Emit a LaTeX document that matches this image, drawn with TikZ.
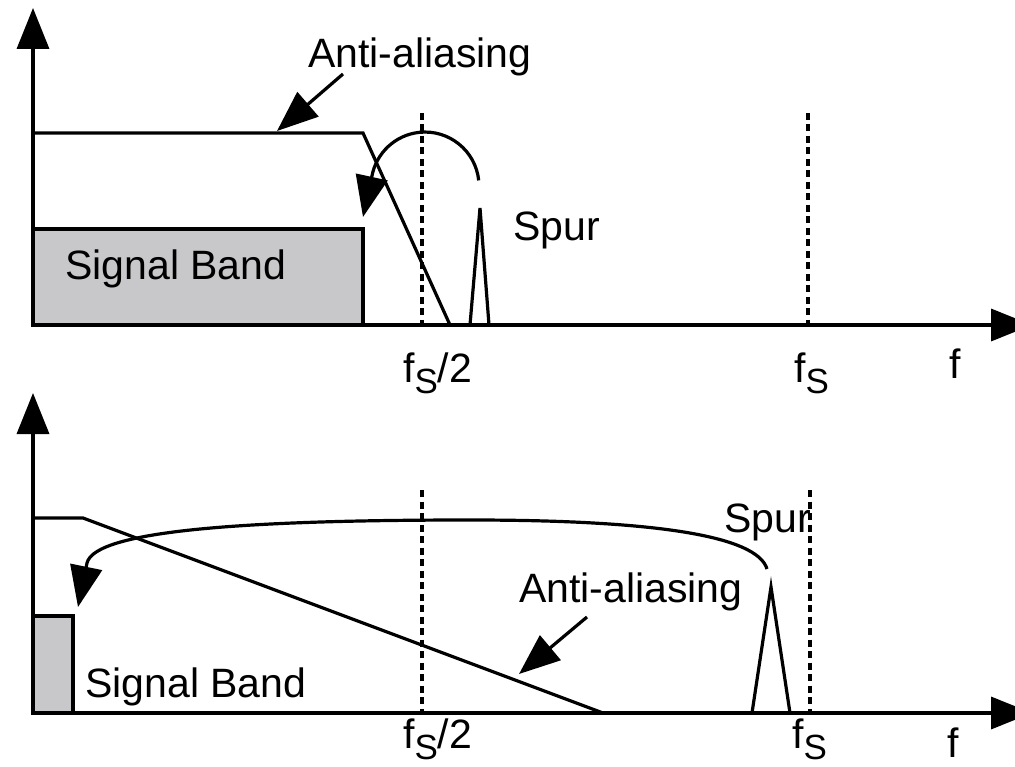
\documentclass[tikz,border=0pt]{standalone}
\usepackage{fontspec}
\setmainfont{Liberation Sans}
\usetikzlibrary{arrows.meta}
\definecolor{bandgray}{RGB}{200,200,202}
\newcommand{\fsubs}{f\raisebox{-11pt}{\fontsize{35}{40}\selectfont S}}
\begin{document}
\begin{tikzpicture}[x=1pt,y=-1pt,
  ax/.style={line width=3.5pt},
  ln/.style={line width=3.2pt, line join=miter},
  bigtip/.style={-{Triangle[length=41pt,width=32pt]}},
  bothtip/.style={{Triangle[length=41pt,width=32pt]}-{Triangle[length=41pt,width=32pt]}},
  dsh/.style={line width=3.2pt, dash pattern=on 7pt off 4.5pt},
  band/.style={draw, line width=3.2pt, fill=bandgray},
  lbl/.style={anchor=base west, inner sep=0pt, font=\fontsize{41}{49}\selectfont},
]
\useasboundingbox (0,0) rectangle (1015,767);

% ---------- top panel ----------
\draw[band] (33,229) rectangle (363,325);
\draw[ln] (33,133) -- (363,133) -- (450,325);
\draw[dsh] (422,113) -- (422,325);
\draw[dsh] (808,113) -- (808,325);
\draw[ln] (470,325) -- (480,208) -- (489,325);
\draw[ax,bothtip] (33,8) -- (33,325) -- (1032,325);
\coordinate (spurtop1) at (478.7,180.4);
\coordinate (tip1) at (363,217);
\draw[ln,bigtip] (spurtop1) arc[start angle=-6, end angle=-170, radius=54] -- (tip1);
\node[lbl] (aa1) at (308,68) {Anti-aliasing};
\coordinate (aa1s) at (343,74);
\coordinate (aa1t) at (277,131);
\draw[ln,bigtip] (aa1s) -- (aa1t);
\node[lbl] (spur1) at (513,241) {Spur};
\node[lbl] (sb1) at (65,280) {Signal Band};
\node[lbl] (fh1) at (403,382) {\fsubs/2};
\node[lbl] (fs1) at (794,382) {\fsubs};
\node[lbl] (f1) at (949,378) {f};

% ---------- bottom panel ----------
\draw[band] (33,616) rectangle (73,713);
\draw[ln] (33,518) -- (83,518) -- (603,713);
\draw[dsh] (422,490) -- (422,713);
\draw[dsh] (810,490) -- (810,713);
\draw[ln] (752,713) -- (771,587) -- (790,713);
\draw[ax,bothtip] (33,393) -- (33,713) -- (1032,713);
\coordinate (spurtop2) at (767,569);
\coordinate (tip2) at (78,607);
\draw[ln,bigtip] (spurtop2) .. controls (757,535) and (650,520) .. (470,520)
  .. controls (250,520) and (95,530) .. (87,563) -- (tip2);
\node[lbl] (aa2) at (519,602) {Anti-aliasing};
\coordinate (aa2s) at (587,617);
\coordinate (aa2t) at (519,674);
\draw[ln,bigtip] (aa2s) -- (aa2t);
\node[lbl] (spur2) at (724,532) {Spur};
\node[lbl] (sb2) at (85,697) {Signal Band};
\node[lbl] (fh2) at (403,748) {\fsubs/2};
\node[lbl] (fs2) at (792,748) {\fsubs};
\node[lbl] (f2) at (947,757) {f};
\end{tikzpicture}
\end{document}
